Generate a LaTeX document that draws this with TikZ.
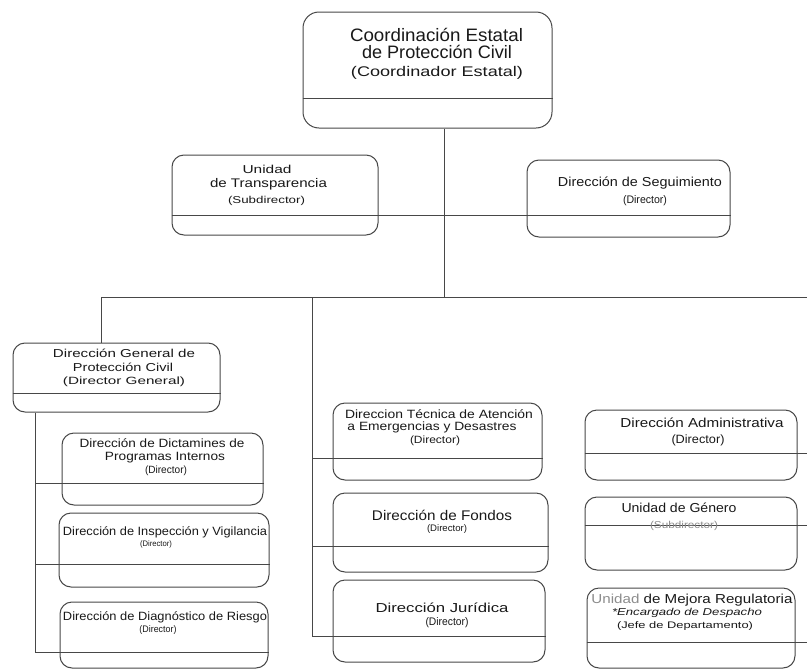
\documentclass[tikz,border=0pt]{standalone}
\usepackage{fontspec}
\setmainfont{Liberation Sans}
\usepackage{graphicx}
% fit a line of text: size, width, text
\newcommand\fl[3]{\resizebox{#2pt}{\height}{\fontsize{#1}{#1}\selectfont #3}}
\newcommand\mkbox[7][12pt]{%
  \node[box, rounded corners=#1, minimum width={#5pt-#3pt}, minimum height={#6pt-#4pt}]
    (#2) at ({(#3+#5)/2},{(#4+#6)/2}) {};
  \draw[ln] (#2.west |- 0,#7) -- (#2.east |- 0,#7);}
\begin{document}
\begin{tikzpicture}[x=1pt,y=-1pt,
  ln/.style={line width=1pt, draw=black!72},
  box/.style={ln, rectangle, inner sep=0pt},
  tx/.style={anchor=base, inner sep=0pt, text=black!90}]
\useasboundingbox (0,0) rectangle (807,670);
\fill[white] (0,0) rectangle (807,670);

% ---- boxes: name, x1, y1, x2, y2, divider y
\mkbox[16pt]{T}{303}{12}{552}{128}{98}
\mkbox{U}{172}{155}{378}{235}{215}
\mkbox{S}{527}{160}{730}{237}{215}
\mkbox{DG}{13}{343}{220}{412}{393}
\mkbox{L1}{62}{433}{263}{505}{483}
\mkbox{L2}{59}{513}{269}{587}{564}
\mkbox{L3}{60}{602}{268}{668}{652}
\mkbox{A}{333}{403}{542}{480}{458}
\mkbox{B}{333}{493}{548}{572}{546}
\mkbox{C}{333}{580}{545}{662}{636}
\mkbox{R1}{585}{410}{797}{480}{453}
\mkbox{R2}{585}{497}{797}{570}{525}
\mkbox{R3}{587}{588}{795}{668}{642}

% ---- junctions
\coordinate (jT) at (444,297);
\coordinate (jL) at (101,297);
\coordinate (jM) at (312,297);
\coordinate (jR) at (807,297);
\coordinate (lvEnd) at (35,652);
\coordinate (mvEnd) at (312,636);
\coordinate (redge) at (807,0);

% ---- connectors
\draw[ln] (T.south -| jT) -- (jT);
\draw[ln] (U.east |- 0,215) -- (S.west |- 0,215);
\draw[ln] (jL) -- (jR);
\draw[ln] (jL) -- (DG.north -| jL);
\draw[ln] (jM) -- (mvEnd);
\draw[ln] (DG.south -| lvEnd) -- (lvEnd);
\draw[ln] (lvEnd |- 0,483) -- (L1.west |- 0,483);
\draw[ln] (lvEnd |- 0,564) -- (L2.west |- 0,564);
\draw[ln] (lvEnd) -- (L3.west |- lvEnd);
\draw[ln] (jM |- 0,458) -- (A.west |- 0,458);
\draw[ln] (jM |- 0,546) -- (B.west |- 0,546);
\draw[ln] (mvEnd) -- (C.west |- mvEnd);
\draw[ln] (R1.east |- 0,453) -- (redge |- 0,453);
\draw[ln] (R2.east |- 0,525) -- (redge |- 0,525);
\draw[ln] (R3.east |- 0,642) -- (redge |- 0,642);

% ---- texts
\node[tx] (T-a) at (436.5,41) {\fl{18}{173}{Coordinación Estatal}};
\node[tx] (T-b) at (437,58) {\fl{18}{150}{de Protección Civil}};
\node[tx] (T-c) at (437,76) {\fl{14}{172}{(Coordinador Estatal)}};

\node[tx] (U-a) at (267,173) {\fl{11.5}{49}{Unidad}};
\node[tx] (U-b) at (268.5,187) {\fl{12.5}{117}{de Transparencia}};
\node[tx] (U-c) at (266.5,203) {\fl{10}{77}{(Subdirector)}};

\node[tx] (S-a) at (640,186) {\fl{13}{164}{Dirección de Seguimiento}};
\node[tx] (S-b) at (645,203) {\fl{11}{44}{(Director)}};

\node[tx] (DG-a) at (124,357) {\fl{11.5}{142}{Dirección General de}};
\node[tx] (DG-b) at (123,371) {\fl{11.5}{100}{Protección Civil}};
\node[tx] (DG-c) at (124,384) {\fl{10.5}{122}{(Director General)}};

\node[tx] (L1-a) at (162,447) {\fl{12}{165}{Dirección de Dictamines de}};
\node[tx] (L1-b) at (165,460) {\fl{12}{120}{Programas Internos}};
\node[tx] (L1-c) at (166,473) {\fl{10.5}{42}{(Director)}};

\node[tx] (L2-a) at (165,535) {\fl{12}{204}{Dirección de Inspección y Vigilancia}};
\node[tx] (L2-b) at (156,546) {\fl{8}{32}{(Director)}};

\node[tx] (L3-a) at (165,620) {\fl{12}{204}{Dirección de Diagnóstico de Riesgo}};
\node[tx] (L3-b) at (158,632) {\fl{9.5}{37}{(Director)}};

\node[tx] (A-a) at (439,418) {\fl{12}{188}{Direccion Técnica de Atención}};
\node[tx] (A-b) at (432,430) {\fl{12}{169}{a Emergencias y Desastres}};
\node[tx] (A-c) at (435,443) {\fl{10.5}{50}{(Director)}};

\node[tx] (B-a) at (442,520) {\fl{14}{140}{Dirección de Fondos}};
\node[tx] (B-b) at (447,531) {\fl{9.5}{40}{(Director)}};

\node[tx] (C-a) at (442,612) {\fl{13}{133}{Dirección Jurídica}};
\node[tx] (C-b) at (447,625) {\fl{11}{43}{(Director)}};

\node[tx] (R1-a) at (702,427) {\fl{13}{163}{Dirección Administrativa}};
\node[tx] (R1-b) at (698,443) {\fl{12}{53}{(Director)}};

\node[tx] (R2-a) at (679,512) {\fl{13}{115}{Unidad de Género}};
\node[tx] (R2-b) at (684,528) {\fl{10}{68}{\textcolor{black!45}{(Subdirector)}}};

\node[tx] (R3-a) at (692,603) {\fl{13}{201}{\textcolor{black!45}{Unidad} de Mejora Regulatoria}};
\node[tx] (R3-b) at (687,615) {\fl{10}{150}{\itshape *Encargado de Despacho}};
\node[tx] (R3-c) at (685,628) {\fl{9.5}{136}{(Jefe de Departamento)}};
\end{tikzpicture}
\end{document}
